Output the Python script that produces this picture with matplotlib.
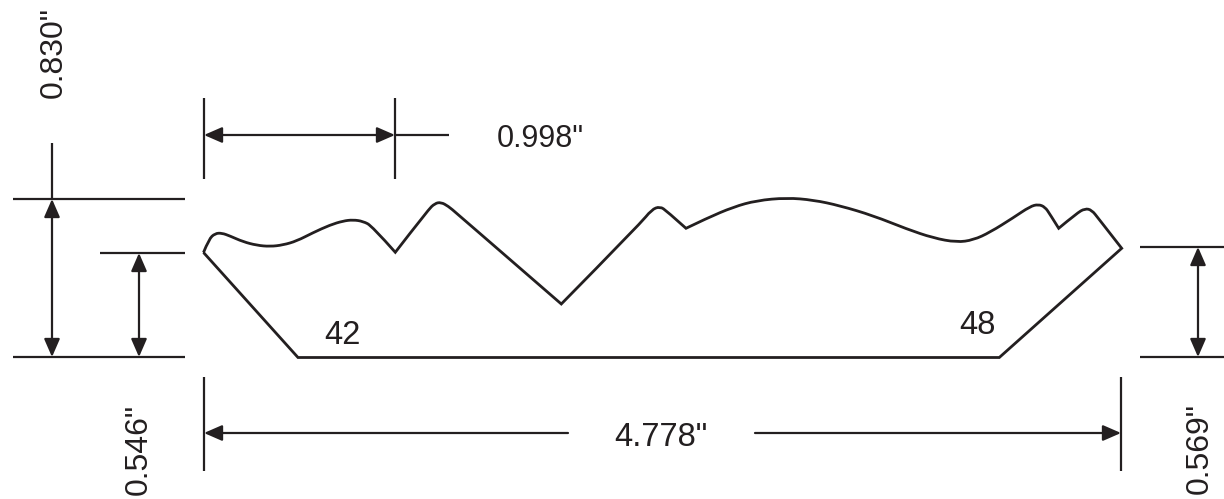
#!/usr/bin/env python3

import matplotlib
matplotlib.use("Agg")
import matplotlib.pyplot as plt
from matplotlib.path import Path
from matplotlib.patches import PathPatch

# profile outline (pixels)
# sharp corners first and last in each list, points between them steer the curve
outline_sections = [
    [(203.5, 252.5), (209, 239), (215, 233.5), (221.7, 233), (230, 236), (243, 241.7), (256.7, 245.3), (270, 246.5),
     (283, 245), (296.7, 241), (313, 232.7), (330, 225), (343, 221), (353, 219.8), (363, 221.3), (372, 226),
     (395.3, 252.3)],
    [(395.3, 252.3), (428, 210), (435, 203.3), (441, 202.3), (448, 206), (456.7, 213.3), (561.3, 304)],
    [(561.3, 304), (640, 224), (651.7, 209.5), (660, 206.5), (666.7, 211), (686, 228.3)],
    [(686, 228.3), (706.7, 218.3), (733.3, 207), (756.7, 200.5), (786.7, 197.8), (813.3, 200), (840, 205.7),
     (873.3, 215.7), (906.7, 229), (933.3, 238), (956.7, 242.3), (973.3, 240), (990, 232.3), (1013.3, 217.7),
     (1030, 206.5), (1038.3, 204.3), (1045, 207), (1050, 214.3), (1058.7, 228.3)],
    [(1058.7, 228.3), (1076.7, 213.3), (1085, 208.5), (1091.7, 210), (1098.3, 218.3), (1121.7, 248.3)],
    [(1121.7, 248.3), (999.3, 357.5)],
    [(999.3, 357.5), (298, 357.5)],
    [(298, 357.5), (203.5, 252.5)],
]

# plain extension lines (x0, y0, x1, y1)
ext_lines = [(204, 98, 204, 179), (395, 98, 395, 179), (395, 135, 449, 135),
             (13, 199, 185, 199), (13, 357, 185, 357), (100, 253, 185, 253),
             (52, 143, 52, 199),
             (1140, 247, 1224, 247), (1140, 357, 1224, 357),
             (204, 377, 204, 471), (1121, 377, 1121, 471)]

# dimension arrows (x0, y0, x1, y1, style)
dim_arrows = [(204, 135, 395, 135, "<|-|>"),
              (52, 199, 52, 357, "<|-|>"),
              (139, 253, 139, 357, "<|-|>"),
              (1198, 247, 1198, 357, "<|-|>"),
              (568, 433, 204, 433, "-|>"),
              (755, 433, 1121, 433, "-|>")]

# labels (x, y, text, rotation, size)
labels = [(54, 52, '0.830"', 90, 23),
          (540, 139, '0.998"', 0, 22),
          (342, 335, "42", 0, 23.5),
          (977, 325, "48", 0, 23.5),
          (661, 437, '4.778"', 0, 23.5),
          (139, 449, '0.546"', 90, 23),
          (1200, 449, '0.569"', 90, 23)]

ink = "#231f20"


def section_path(points):
    verts = [points[0]]
    codes = [Path.MOVETO]
    ctrl = points[1:-1]
    for i, c in enumerate(ctrl):
        end = points[-1] if i == len(ctrl) - 1 else ((c[0] + ctrl[i + 1][0]) / 2, (c[1] + ctrl[i + 1][1]) / 2)
        verts += [c, end]
        codes += [Path.CURVE3, Path.CURVE3]
    if not ctrl:
        verts.append(points[-1])
        codes.append(Path.LINETO)
    return verts, codes


fig = plt.figure(figsize=(12.24, 4.99), dpi=100)
ax = fig.add_axes([0, 0, 1, 1])
ax.set_xlim(0, 1224)
ax.set_ylim(499, 0)
ax.axis("off")

all_verts, all_codes = [], []
for sec in outline_sections:
    v, c = section_path(sec)
    if all_verts:
        v, c = v[1:], c[1:]
    all_verts += v
    all_codes += c
ax.add_patch(PathPatch(Path(all_verts, all_codes), fill=False, edgecolor=ink, lw=2.0, joinstyle="miter"))

for x0, y0, x1, y1 in ext_lines:
    ax.plot([x0, x1], [y0, y1], color=ink, lw=1.6, solid_capstyle="butt")

for x0, y0, x1, y1, style in dim_arrows:
    ax.annotate("", xy=(x1, y1), xytext=(x0, y0),
                arrowprops=dict(arrowstyle=style + ",head_length=0.55,head_width=0.24",
                                color=ink, lw=1.6, shrinkA=0, shrinkB=0, mutation_scale=20))

for x, y, s, rot, size in labels:
    ax.text(x, y, s, rotation=rot, ha="center", va="center", fontsize=size,
            family="Liberation Sans", color=ink)

fig.savefig("out.png", dpi=100)
